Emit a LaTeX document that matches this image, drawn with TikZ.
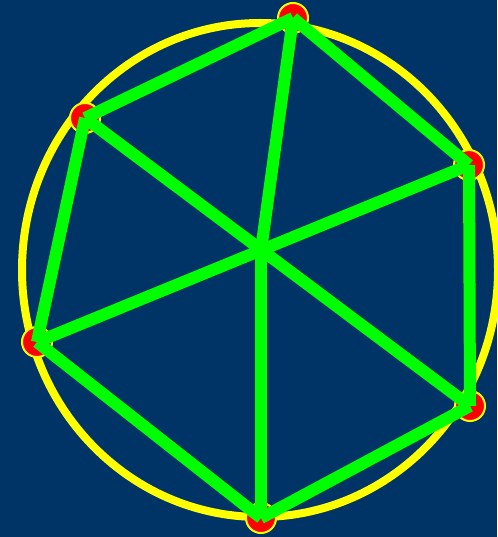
\documentclass[tikz,border=0pt]{standalone}
\definecolor{bgblue}{RGB}{0,51,102}
\definecolor{lgreen}{RGB}{0,255,0}
\definecolor{ringyellow}{RGB}{255,255,0}
\definecolor{dotred}{RGB}{255,0,0}
\begin{document}
\begin{tikzpicture}[x=1pt,y=-1pt,
  ring/.style={draw=ringyellow, line width=8pt},
  vertex/.style={circle, fill=dotred, draw=ringyellow, line width=2pt, minimum size=30pt, inner sep=0pt},
  edge/.style={draw=lgreen, line width=12pt}]
\fill[bgblue] (0,0) rectangle (497,537);
\useasboundingbox (0,0) rectangle (497,537);
\draw[ring] (260,270) ellipse [x radius=238pt, y radius=247pt];
\node[vertex] (p1) at (293,18) {};
\node[vertex] (p2) at (85,118) {};
\node[vertex] (p3) at (37,342) {};
\node[vertex] (p4) at (261,518) {};
\node[vertex] (p5) at (470,406) {};
\node[vertex] (p6) at (469,165) {};
\coordinate (c) at (261,250);
\draw[edge] (p1.center) -- (p2.center);
\draw[edge] (p2.center) -- (p3.center);
\draw[edge] (p3.center) -- (p4.center);
\draw[edge] (p4.center) -- (p5.center);
\draw[edge] (p5.center) -- (p6.center);
\draw[edge] (p6.center) -- (p1.center);
\draw[edge] (p2.center) -- (p5.center);
\draw[edge] (p3.center) -- (p6.center);
\draw[edge] (p1.center) -- (c);
\draw[edge] (c) -- (p4.center);
\end{tikzpicture}
\end{document}
